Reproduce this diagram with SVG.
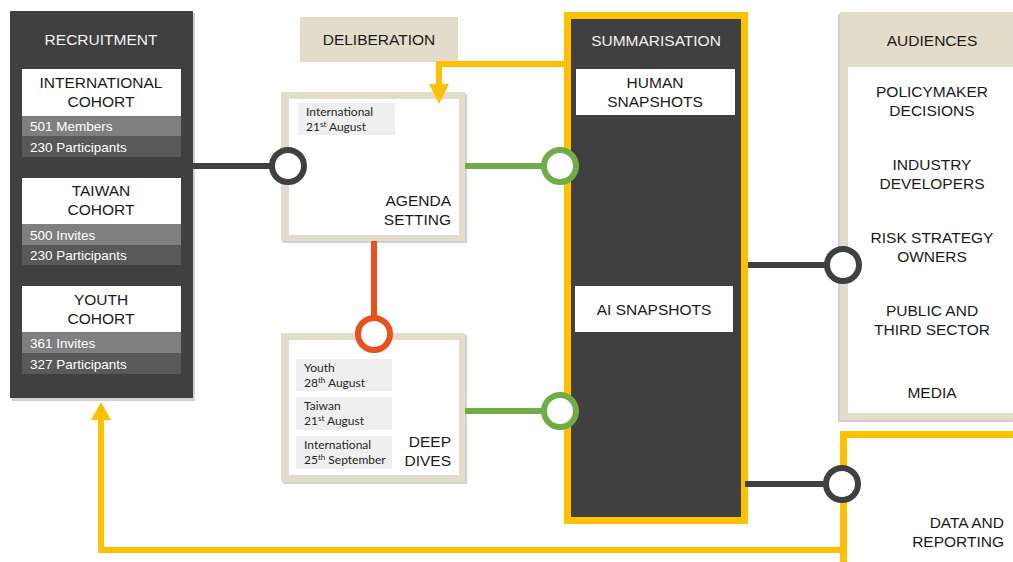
<svg xmlns="http://www.w3.org/2000/svg" width="1013" height="562" viewBox="0 0 1013 562">
<defs>
<style>
.h{font-family:"Liberation Sans",Arial,sans-serif;font-size:15.5px;fill:#1a1a1a}
.hw{font-family:"Liberation Sans",Arial,sans-serif;font-size:15.5px;fill:#f2f2f2}
.row{font-family:"Liberation Sans",Arial,sans-serif;font-size:13.5px;fill:#ffffff}
.sm{font-family:Lato,"Open Sans",sans-serif;font-size:12px;fill:#262626}
.sup{font-size:8px}
.mid{text-anchor:middle}
.end{text-anchor:end}
.dark{fill:#404040}
.beige{fill:#e3dccb}
.lab{fill:#efefef}
.shadow{fill:#000;opacity:0.18}
.ln{fill:none;stroke-width:6}
.ring{fill:#fff;stroke-width:6}
</style>
</defs>

<g id="recruitment">
<rect class="shadow" x="12" y="13" width="183" height="388"/>
<rect class="dark" x="10" y="11" width="183" height="387"/>
<text class="hw mid" x="101" y="45">RECRUITMENT</text>
</g>

<g id="international-cohort">
<rect x="22" y="69" width="159" height="47" fill="#fff"/>
<text class="h mid" x="101" y="88">INTERNATIONAL</text>
<text class="h mid" x="101" y="107">COHORT</text>
<rect x="22" y="116" width="159" height="20" fill="#7f7f7f"/>
<rect x="22" y="136" width="159" height="21" fill="#595959"/>
<text class="row" x="30" y="131">501 Members</text>
<text class="row" x="30" y="152">230 Participants</text>
</g>

<g id="taiwan-cohort">
<rect x="22" y="178" width="159" height="46" fill="#fff"/>
<text class="h mid" x="101" y="196">TAIWAN</text>
<text class="h mid" x="101" y="215">COHORT</text>
<rect x="22" y="224" width="159" height="21" fill="#7f7f7f"/>
<rect x="22" y="245" width="159" height="20" fill="#595959"/>
<text class="row" x="30" y="240">500 Invites</text>
<text class="row" x="30" y="260">230 Participants</text>
</g>

<g id="youth-cohort">
<rect x="22" y="286" width="159" height="46" fill="#fff"/>
<text class="h mid" x="101" y="305">YOUTH</text>
<text class="h mid" x="101" y="324">COHORT</text>
<rect x="22" y="332" width="159" height="21" fill="#7f7f7f"/>
<rect x="22" y="353" width="159" height="21" fill="#595959"/>
<text class="row" x="30" y="348">361 Invites</text>
<text class="row" x="30" y="369">327 Participants</text>
</g>

<g id="deliberation">
<rect class="beige" x="300" y="17" width="158" height="45"/>
<text class="h mid" x="379" y="45">DELIBERATION</text>
</g>

<g id="agenda-setting">
<rect class="shadow" x="283" y="94" width="184" height="149"/>
<rect class="beige" x="281" y="92" width="184" height="149"/>
<rect x="289" y="99" width="170" height="136" fill="#fff"/>
<rect class="lab" x="298" y="103" width="97" height="32"/>
<text class="sm" x="306" y="116">International</text>
<text class="sm" x="306" y="131">21<tspan class="sup" dy="-4">st</tspan><tspan dy="4"> August</tspan></text>
<text class="h end" x="451" y="206">AGENDA</text>
<text class="h end" x="451" y="225">SETTING</text>
</g>

<g id="deep-dives">
<rect class="shadow" x="283" y="335" width="184" height="149"/>
<rect class="beige" x="281" y="333" width="184" height="149"/>
<rect x="289" y="340" width="170" height="135" fill="#fff"/>
<rect class="lab" x="296" y="359" width="96" height="32"/>
<text class="sm" x="304" y="372">Youth</text>
<text class="sm" x="304" y="387">28<tspan class="sup" dy="-4">th</tspan><tspan dy="4"> August</tspan></text>
<rect class="lab" x="296" y="397" width="96" height="33"/>
<text class="sm" x="304" y="410">Taiwan</text>
<text class="sm" x="304" y="425">21<tspan class="sup" dy="-4">st</tspan><tspan dy="4"> August</tspan></text>
<rect class="lab" x="296" y="436" width="96" height="33"/>
<text class="sm" x="304" y="449">International</text>
<text class="sm" x="304" y="464">25<tspan class="sup" dy="-4">th</tspan><tspan dy="4"> September</tspan></text>
<text class="h end" x="451" y="447">DEEP</text>
<text class="h end" x="451" y="466">DIVES</text>
</g>

<g id="summarisation">
<rect x="564" y="12" width="184" height="512" fill="#ffc000"/>
<rect class="dark" x="571" y="19" width="170" height="498"/>
<text class="hw mid" x="656" y="46">SUMMARISATION</text>
</g>

<g id="human-snapshots">
<rect x="576" y="69" width="159" height="46" fill="#fff"/>
<text class="h mid" x="655" y="88">HUMAN</text>
<text class="h mid" x="655" y="107">SNAPSHOTS</text>
</g>

<g id="ai-snapshots">
<rect x="575" y="286" width="158" height="46" fill="#fff"/>
<text class="h mid" x="654" y="315">AI SNAPSHOTS</text>
</g>

<g id="audiences">
<rect class="shadow" x="838" y="14" width="180" height="408"/>
<rect class="beige" x="840" y="12" width="180" height="408"/>
<rect x="848" y="67" width="170" height="346" fill="#fff"/>
<text class="h mid" x="932" y="46">AUDIENCES</text>
<text class="h mid" x="932" y="97">POLICYMAKER</text>
<text class="h mid" x="932" y="116">DECISIONS</text>
<text class="h mid" x="932" y="170">INDUSTRY</text>
<text class="h mid" x="932" y="189">DEVELOPERS</text>
<text class="h mid" x="932" y="243">RISK STRATEGY</text>
<text class="h mid" x="932" y="262">OWNERS</text>
<text class="h mid" x="932" y="316">PUBLIC AND</text>
<text class="h mid" x="932" y="335">THIRD SECTOR</text>
<text class="h mid" x="932" y="398">MEDIA</text>
</g>

<g id="data-and-reporting">
<rect x="840" y="431" width="180" height="140" fill="#ffc000"/>
<rect x="847" y="438" width="170" height="130" fill="#fff"/>
<text class="h end" x="1004" y="528">DATA AND</text>
<text class="h end" x="1004" y="547">REPORTING</text>
</g>

<g id="connectors">
<line class="ln" x1="193" y1="166" x2="272" y2="166" stroke="#404040"/>
<circle class="ring" cx="288" cy="166" r="16" stroke="#404040"/>
<line class="ln" x1="465" y1="166" x2="544" y2="166" stroke="#70ad47"/>
<circle class="ring" cx="560" cy="166" r="16" stroke="#70ad47"/>
<line class="ln" x1="465" y1="411" x2="544" y2="411" stroke="#70ad47"/>
<circle class="ring" cx="560" cy="411" r="16" stroke="#70ad47"/>
<line class="ln" x1="374" y1="241" x2="374" y2="318" stroke="#e8501e"/>
<circle class="ring" cx="374" cy="334" r="16" stroke="#e8501e"/>
<line class="ln" x1="748" y1="265" x2="827" y2="265" stroke="#404040"/>
<circle class="ring" cx="843" cy="265" r="16" stroke="#404040"/>
<line class="ln" x1="745" y1="484" x2="826" y2="484" stroke="#404040"/>
<circle class="ring" cx="842" cy="484" r="16" stroke="#404040"/>
<polyline class="ln" points="564,64 439,64 439,86" stroke="#ffc000"/>
<polygon points="429,84 449,84 439,104" fill="#ffc000"/>
<polyline class="ln" points="840,550 101,550 101,418" stroke="#ffc000"/>
<polygon points="91,420 111,420 101,402" fill="#ffc000"/>
</g>
</svg>
